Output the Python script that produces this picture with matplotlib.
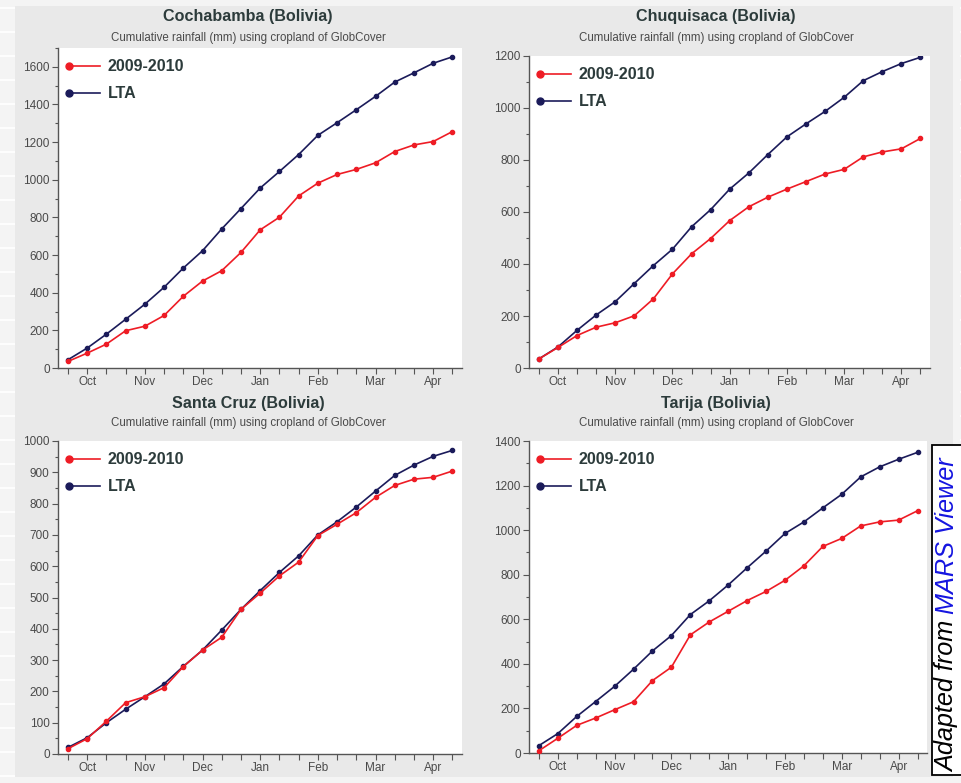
import matplotlib
matplotlib.use("Agg")
import matplotlib.pyplot as plt
from matplotlib.lines import Line2D
from matplotlib.legend_handler import HandlerLine2D
from matplotlib.patches import Rectangle
from matplotlib.ticker import MultipleLocator, FixedLocator
import numpy as np

plt.rcParams['font.family'] = ['Liberation Sans', 'DejaVu Sans']

# ---------------- data ----------------
months = ["Oct", "Nov", "Dec", "Jan", "Feb", "Mar", "Apr"]
dekads = list(range(21))  # 3 dekads per month, Oct..Apr

regions = ["Cochabamba (Bolivia)", "Chuquisaca (Bolivia)",
           "Santa Cruz (Bolivia)", "Tarija (Bolivia)"]
subtitle = "Cumulative rainfall (mm) using cropland of GlobCover"
series_names = ["2009-2010", "LTA"]

cochabamba_2009 = [35, 79, 127, 198, 222, 279, 381, 462, 517, 614, 734,
                   801, 914, 982, 1028, 1055, 1090, 1150, 1185, 1203, 1256]
cochabamba_lta = [44, 106, 180, 259, 339, 429, 531, 623, 739, 847, 956,
                  1044, 1134, 1236, 1303, 1372, 1443, 1519, 1568, 1619, 1653]

chuquisaca_2009 = [35, 79, 125, 157, 174, 201, 266, 362, 439, 498, 567,
                   620, 657, 688, 717, 746, 764, 812, 831, 843, 883]
chuquisaca_lta = [35, 81, 145, 204, 255, 325, 394, 457, 543, 609, 688,
                  750, 821, 889, 939, 987, 1041, 1105, 1140, 1171, 1195]

santacruz_2009 = [17, 49, 105, 164, 183, 212, 279, 332, 373, 462, 514,
                  569, 613, 698, 734, 771, 820, 858, 878, 884, 904]
santacruz_lta = [21, 52, 100, 143, 183, 224, 280, 332, 396, 462, 522,
                 580, 633, 700, 742, 789, 840, 890, 923, 951, 970]

tarija_2009 = [10, 66, 124, 157, 194, 230, 325, 385, 530, 588, 636,
               684, 725, 775, 840, 927, 963, 1019, 1037, 1045, 1087]
tarija_lta = [33, 87, 164, 231, 299, 376, 458, 527, 621, 683, 754,
              831, 906, 985, 1037, 1100, 1161, 1239, 1284, 1318, 1349]

data_2009 = [cochabamba_2009, chuquisaca_2009, santacruz_2009, tarija_2009]
data_lta = [cochabamba_lta, chuquisaca_lta, santacruz_lta, tarija_lta]
y_max = [1700, 1200, 1000, 1400]
y_major = [200, 200, 100, 200]
y_minor = [100, 100, 50, 100]

# ---------------- style ----------------
RED = "#ee1c25"
NAVY = "#1b1b5a"
TXT = "#2c3b3b"
TICK = "#555555"

W, H = 961, 783
fig = plt.figure(figsize=(W / 100, H / 100), dpi=100)
fig.patch.set_facecolor("#f4f4f4")

# faint web-page background lines
for yy in np.arange(8, H, 24):
    fig.add_artist(Line2D([0, 1], [1 - yy / H] * 2, transform=fig.transFigure,
                          color="white", lw=1.2, dashes=(18, 6), zorder=-5))

# grey panel background
fig.add_artist(Rectangle((15 / W, 1 - 777 / H), (953 - 15) / W, (777 - 6) / H,
                         transform=fig.transFigure, facecolor="#e9e9e9",
                         edgecolor="none", zorder=-4))


def px_axes(l, t, r, b):
    return [l / W, 1 - b / H, (r - l) / W, (b - t) / H]


axes_px = [(58, 48, 462, 368), (529, 56, 930, 368),
           (58, 441, 462, 754), (529, 441, 927, 753)]
title_pos = [(248, 17, 38), (716, 17, 38), (248, 403, 423), (716, 403, 423)]


class StartMarkerHandler(HandlerLine2D):
    def create_artists(self, legend, orig_handle, xdescent, ydescent,
                       width, height, fontsize, trans):
        arts = super().create_artists(legend, orig_handle, xdescent, ydescent,
                                      width, height, fontsize, trans)
        for a in arts:
            a.set_markevery([0])
        return arts


for i in range(4):
    ax = fig.add_axes(px_axes(*axes_px[i]))
    ax.set_facecolor("white")
    l1, = ax.plot(dekads, data_2009[i], color=RED, lw=1.2, marker="o",
                  ms=3.0, label=series_names[0], zorder=3)
    l2, = ax.plot(dekads, data_lta[i], color=NAVY, lw=1.2, marker="o",
                  ms=3.0, label=series_names[1], zorder=2)
    ax.set_xlim(-0.52, 20.5)
    ax.set_ylim(0, y_max[i])
    for s in ["top", "right"]:
        ax.spines[s].set_visible(False)
    for s in ["left", "bottom"]:
        ax.spines[s].set_color(TICK)
        ax.spines[s].set_linewidth(1.0)
    ax.xaxis.set_major_locator(FixedLocator([1 + 3 * k for k in range(7)]))
    ax.set_xticklabels(months)
    ax.xaxis.set_minor_locator(FixedLocator(dekads))
    ax.yaxis.set_major_locator(MultipleLocator(y_major[i]))
    ax.yaxis.set_minor_locator(MultipleLocator(y_minor[i]))
    ax.tick_params(axis="both", which="both", direction="out", color=TICK,
                   labelcolor="#4a4a4a", labelsize=8.5, width=0.8)
    ax.tick_params(axis="x", which="major", length=4, pad=2)
    ax.tick_params(axis="x", which="minor", length=4)
    ax.tick_params(axis="y", which="major", length=4, pad=2)
    ax.tick_params(axis="y", which="minor", length=2.5)

    leg = ax.legend(handles=[l1, l2], loc="upper left", frameon=False,
                    handler_map={Line2D: StartMarkerHandler(numpoints=1)},
                    prop={"weight": "bold", "size": 11.5},
                    handlelength=1.9, handletextpad=0.5, labelspacing=0.75,
                    borderaxespad=0.3, borderpad=0.4)
    for t in leg.get_texts():
        t.set_color(TXT)
    for h in leg.legend_handles:
        h.set_markersize(5)

    tx, ty, sy = title_pos[i]
    fig.text(tx / W, 1 - ty / H, regions[i], ha="center", va="center",
             fontsize=11.6, fontweight="bold", color=TXT)
    fig.text(tx / W, 1 - sy / H, subtitle, ha="center", va="center",
             fontsize=8.3, color="#4a4a4a")

# Attribution box
fig.add_artist(Rectangle((932 / W, 1 - 775 / H), 40 / W, (775 - 445) / H,
                         transform=fig.transFigure, facecolor="white",
                         edgecolor="black", lw=1.3, zorder=5))
t1 = fig.text(935 / W, 1 - 772 / H, "Adapted from ", rotation=90,
              ha="left", va="bottom", fontsize=18.2, style="italic",
              color="black", zorder=6)
fig.canvas.draw()
bb = t1.get_window_extent()
t2 = fig.text(935 / W, (bb.y1) / (H), "MARS Viewer", rotation=90,
              ha="left", va="bottom", fontsize=18.2, style="italic",
              color="#1515e0", zorder=6)

fig.savefig("out.png", dpi=100, facecolor=fig.get_facecolor())
